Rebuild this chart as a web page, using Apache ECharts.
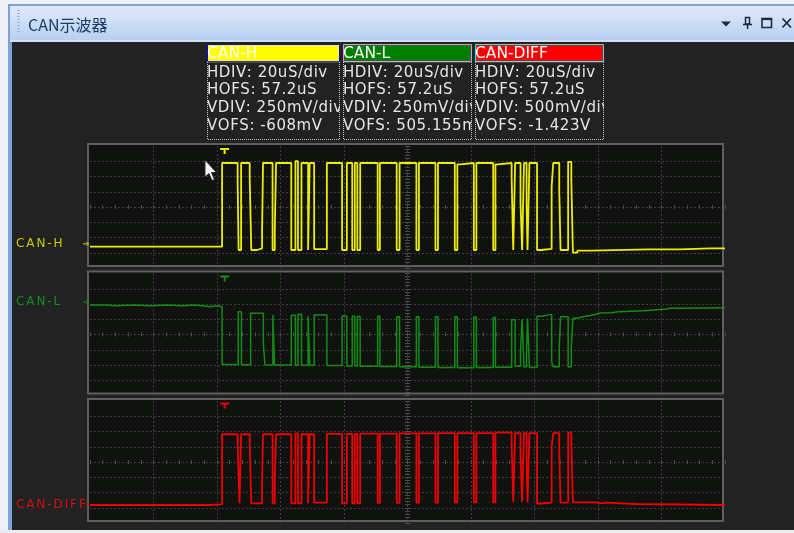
<!DOCTYPE html>
<html>
<head>
<meta charset="utf-8">
<script src="https://cdn.jsdelivr.net/npm/echarts@6/dist/echarts.min.js"></script>
<style>
html,body{margin:0;padding:0;background:#222222;}
#main{width:794px;height:533px;}
</style>
</head>
<body>
<div id="main"></div>
<script>
// ---- channel settings (shown in the info boxes) ----
const channelNames = ['CAN-H', 'CAN-L', 'CAN-DIFF'];
const hdivText = ['20uS/div', '20uS/div', '20uS/div'];
const hofsText = ['57.2uS', '57.2uS', '57.2uS'];
const vdivText = ['250mV/div', '250mV/div', '500mV/div'];
const vofsText = ['-608mV', '505.155mV', '-1.423V'];

// time axis in µs around the screen centre, 20 µs per division
const timeRange = [-100, 100];
const timePerDiv = 20;
// volts per division for each channel, mV
const voltsPerDiv = [250, 250, 500];
// trigger instant, µs
const triggerTime = -57.6;

// captured waveforms: [time µs, level mV relative to channel centre line]
// each point marks where the level changes (drawn as a step trace)
const canH = [
  [-100, -651], [-58.4, 721], [-53.5, 415], [-53.2, -705],
  [-52.4, 721], [-49.7, 470], [-49.2, -705], [-47.4, -677], [-45.8, -377],
  [-45.5, 721], [-43.6, 700], [-43.0, 721], [-42.5, -705], [-41.8, -405],
  [-41.4, 721], [-36.6, -705], [-35.3, 750], [-34.5, -705],
  [-33.4, 721], [-31.3, -705], [-30.8, 721], [-29.4, -690],
  [-25.4, 721], [-20.6, -705], [-19.1, 721], [-17.4, -705],
  [-16.6, 721], [-15.8, -705], [-14.9, 721], [-9.4, -705],
  [-8.7, 721], [-3.4, -705], [-2.5, 721], [2.8, -705],
  [3.6, 721], [8.8, -705], [9.6, 721], [14.9, -705],
  [15.7, 700], [16.5, 721], [20.9, -705], [21.7, 721], [27.0, -705],
  [27.7, 700], [28.5, 721], [32.8, 470], [33.3, -705],
  [33.9, 721], [35.6, 61], [36.1, -705], [36.7, 721], [37.5, 33], [37.8, -705],
  [38.4, 721], [40.8, -705], [42.1, -688], [45.4, 333], [45.9, 721],
  [47.8, 251], [48.2, -705], [50.6, 740], [51.6, 443], [52.1, -749],
  [53.5, -716], [57.9, -694], [75.9, -670], [76.4, -694], [78.3, -670], [78.8, -694],
  [79.9, -672], [80.4, -694], [82.7, -672], [83.2, -694], [84.0, -672], [84.5, -694],
  [85.8, -677], [95.3, -655], [95.9, -677], [100, -677]
];

const canL = [
  [-100, 483], [-95, 470], [-92, 483], [-86, 470], [-81, 483], [-76, 470],
  [-71, 483], [-67, 456], [-62, 470], [-60, 456],
  [-58.4, -490], [-53.3, 374], [-52.3, -495], [-49.4, 347], [-45.4, -144], [-44.9, -500],
  [-42.4, 320], [-41.9, -500], [-36.6, 315], [-35.3, -505], [-34.5, 330], [-33.4, -505],
  [-31.3, 300], [-30.8, -505], [-29.4, 320], [-25.4, -510], [-20.6, 305], [-19.1, -515],
  [-17.4, 300], [-16.6, -515], [-15.8, 295], [-14.9, -520], [-9.4, 300], [-8.7, -525],
  [-3.4, 292], [-2.5, -528], [2.8, 292], [3.6, -535], [8.8, 292], [9.6, -540],
  [14.9, 290], [15.7, -545], [20.9, 285], [21.7, -540], [27.0, 280], [27.7, -535],
  [32.8, 240], [33.9, -520], [35.6, -300], [36.1, 250], [36.7, -530], [37.5, -250],
  [37.8, 260], [38.4, -540], [40.8, 300], [42.1, 330], [45.4, -446], [45.9, -528],
  [47.8, -200], [48.2, 292], [50.6, -528], [51.6, -200], [52.1, 266], [53.4, 292],
  [55.3, 308], [56.9, 320], [58.4, 336], [59.7, 352], [60.6, 357], [64.4, 374],
  [66.3, 390], [74.2, 418], [81.7, 429], [82.4, 445], [82.9, 429], [84.6, 445],
  [85.1, 429], [86.5, 439], [100, 439]
];

const canDiff = [
  [-100, -1410], [-62.8, -1466], [-62.5, -1387],
  [-58.4, 910], [-53.5, 557], [-52.9, -1354],
  [-52.4, 910], [-49.7, 612], [-49.2, -1354], [-45.8, -535],
  [-45.5, 910], [-42.5, -1354], [-41.8, -500],
  [-41.4, 910], [-36.6, -1354], [-35.3, 940], [-34.5, -1354],
  [-33.4, 910], [-31.3, -1354], [-30.8, 910], [-29.4, -1330],
  [-25.4, 920], [-20.6, -1354], [-19.1, 920], [-17.4, -1354],
  [-16.6, 920], [-15.8, -1354], [-14.9, 930], [-9.4, -1340],
  [-8.7, 930], [-3.4, -1340], [-2.5, 940], [2.8, -1330],
  [3.6, 940], [8.8, -1330], [9.6, 950], [14.9, -1320],
  [15.7, 950], [20.9, -1320], [21.7, 950], [27.0, -1320],
  [27.7, 960], [32.8, 612], [33.3, -1302], [33.9, 950], [35.6, 175], [36.1, -1302],
  [36.7, 950], [37.5, 66], [37.8, -1330], [38.4, 950], [40.8, -1360], [42.1, -1330],
  [45.4, 503], [45.9, 950], [47.8, 338], [48.2, -1330], [50.6, 960], [51.6, 667],
  [52.1, -1321], [59.6, -1360], [60.4, -1330], [62.7, -1377], [71.7, -1410], [100, -1410]
];

// ---- styling ----
const traceColors = ['#eded00', '#138d13', '#f00000'];
const traceWidths = [1.8, 1.5, 1.8];
const labelColors = ['#cdcd00', '#14901a', '#d41010'];
const headerFill = ['#ffff00', '#008000', '#ff0000'];
const headerEdge = ['#0000ff', '#ff7fff', '#00ffff'];
const gridColor = '#3f3f3f';
const tickColor = '#4d4d4d';
const frameBg = '#222222';
const plotBg = '#0f120f';

const panelTop = [146, 273.5, 401];
const plotLeft = 90, plotW = 635, plotH = 122;
// level of the small trigger "T" flag in each panel, mV
const triggerFlagLevel = [920, 920, 1850];

const chart = echarts.init(document.getElementById('main'), null, {renderer: 'canvas'});

const grids = panelTop.map(t => ({left: plotLeft, top: t, width: plotW, height: plotH, show: false}));
const xAxes = [], yAxes = [];
const tickCommon = {show: true, length: 2, lineStyle: {color: tickColor, width: 1}};
panelTop.forEach((t, i) => {
  const vd = voltsPerDiv[i];
  const xBase = {
    gridIndex: i, type: 'value', min: timeRange[0], max: timeRange[1], interval: timePerDiv,
    axisLabel: {show: false}, axisTick: tickCommon,
    minorTick: {show: true, splitNumber: 5, length: 2, lineStyle: {color: tickColor, width: 1}}
  };
  const yBase = {
    gridIndex: i, type: 'value', min: -4 * vd, max: 4 * vd, interval: vd,
    axisLabel: {show: false}, axisTick: {show: true, length: 2.5, lineStyle: {color: tickColor, width: 1}},
    minorTick: {show: true, splitNumber: 5, length: 2.5, lineStyle: {color: tickColor, width: 1}}
  };
  // division grid + lower half of the centre-line ticks
  xAxes.push(Object.assign({}, xBase, {
    position: 'bottom',
    axisLine: {show: false, onZero: true, onZeroAxisIndex: 2 * i},
    splitLine: {show: true, showMinLine: false, showMaxLine: false, lineStyle: {color: gridColor, type: [2, 2], width: 1}}
  }));
  // upper half of the centre-line ticks
  xAxes.push(Object.assign({}, xBase, {
    position: 'top',
    axisLine: {show: false, onZero: true, onZeroAxisIndex: 2 * i},
    splitLine: {show: false}
  }));
  yAxes.push(Object.assign({}, yBase, {
    position: 'left',
    axisLine: {show: false, onZero: true, onZeroAxisIndex: 2 * i},
    splitLine: {show: true, showMinLine: false, showMaxLine: false, lineStyle: {color: gridColor, type: [2, 2], width: 1}}
  }));
  yAxes.push(Object.assign({}, yBase, {
    position: 'right',
    axisLine: {show: false, onZero: true, onZeroAxisIndex: 2 * i},
    splitLine: {show: false}
  }));
});

const traces = [canH, canL, canDiff];
const series = traces.map((d, i) => ({
  type: 'line', name: channelNames[i],
  xAxisIndex: 2 * i, yAxisIndex: 2 * i,
  data: d, step: 'end', showSymbol: false, symbol: 'none',
  animation: false, silent: true,
  lineStyle: {color: traceColors[i], width: traceWidths[i]},
  itemStyle: {color: traceColors[i]},
  z: 3,
  markPoint: {
    symbol: 'path://M0,0H9V2H5.5V6H3.5V2H0Z', symbolSize: [9, 6], silent: true, animation: false,
    label: {show: false}, itemStyle: {color: traceColors[i]},
    data: [{coord: [triggerTime, triggerFlagLevel[i]]}]
  }
}));

// text laid out one character at a time with extra tracking
const measureCtx = document.createElement('canvas').getContext('2d');
function trackedText(out, str, x, y, font, fill, tracking, z) {
  measureCtx.font = font;
  let cx = x;
  for (const ch of str) {
    out.push({type: 'text', z: z, style: {text: ch, x: cx, y: y, font: font, fill: fill, verticalAlign: 'middle'}});
    cx += measureCtx.measureText(ch).width + tracking;
  }
}

// ---- window chrome, info boxes, panel frames and labels ----
const g = [];
// outer light margin and window border
g.push({type: 'rect', z: -20, shape: {x: 0, y: 0, width: 794, height: 533}, style: {fill: '#eef2f8'}});
g.push({type: 'rect', z: -19, shape: {x: 8, y: 4, width: 786, height: 526}, style: {fill: '#7fa2d6'}});
g.push({type: 'rect', z: -18, shape: {x: 12, y: 42, width: 782, height: 488}, style: {fill: frameBg}});
g.push({type: 'rect', z: -18, shape: {x: 0, y: 530, width: 794, height: 3}, style: {fill: '#ececec'}});
// title bar
g.push({type: 'rect', z: -17, shape: {x: 10, y: 6, width: 784, height: 35}, style: {
  fill: {type: 'linear', x: 0, y: 0, x2: 0, y2: 1, colorStops: [{offset: 0, color: '#e0ebfa'}, {offset: 1, color: '#b5cff1'}]}
}});
g.push({type: 'rect', z: -17, shape: {x: 10, y: 40, width: 784, height: 2}, style: {fill: '#cfdff5'}});
g.push({type: 'line', z: 5, shape: {x1: 18.5, y1: 10, x2: 18.5, y2: 34}, style: {stroke: '#8aa3c8', lineWidth: 2, lineDash: [1, 2]}});
g.push({type: 'text', z: 5, style: {text: 'CAN示波器', x: 28, y: 24.5, font: '16px "Noto Sans CJK SC"', fill: '#1f3a63', verticalAlign: 'middle'}});
// title bar buttons
const iconColor = '#1b2b44';
g.push({type: 'polygon', z: 5, shape: {points: [[721, 21.5], [731, 21.5], [726, 26.5]]}, style: {fill: iconColor}});
g.push({type: 'rect', z: 5, shape: {x: 745.5, y: 17.5, width: 4, height: 6.5}, style: {fill: 'none', stroke: iconColor, lineWidth: 1.5}});
g.push({type: 'line', z: 5, shape: {x1: 743, y1: 24.5, x2: 752, y2: 24.5}, style: {stroke: iconColor, lineWidth: 1.5}});
g.push({type: 'line', z: 5, shape: {x1: 747.5, y1: 24.5, x2: 747.5, y2: 29}, style: {stroke: iconColor, lineWidth: 1.5}});
g.push({type: 'rect', z: 5, shape: {x: 762, y: 18.5, width: 9.5, height: 9}, style: {fill: 'none', stroke: iconColor, lineWidth: 1.6}});
g.push({type: 'line', z: 5, shape: {x1: 762, y1: 19.3, x2: 771.5, y2: 19.3}, style: {stroke: iconColor, lineWidth: 1.6}});
g.push({type: 'line', z: 5, shape: {x1: 782.5, y1: 18.5, x2: 791, y2: 27.5}, style: {stroke: iconColor, lineWidth: 1.8}});
g.push({type: 'line', z: 5, shape: {x1: 791, y1: 18.5, x2: 782.5, y2: 27.5}, style: {stroke: iconColor, lineWidth: 1.8}});

// info boxes; each box is layered above the previous one so overflowing text is hidden
const boxX = [207.5, 343.5, 475.5];
const boxW = [132, 128, 128];
const infoFont = '15px "DejaVu Sans"';
channelNames.forEach((name, i) => {
  const bx = boxX[i], bw = boxW[i], zb = 10 + i * 6;
  g.push({type: 'rect', z: zb, shape: {x: bx - 0.5, y: 43.5, width: i === 2 ? 60 : bw + 4.5, height: 97}, style: {fill: frameBg}});
  g.push({type: 'rect', z: zb + 1, shape: {x: bx, y: 44.5, width: bw, height: 17}, style: {fill: headerFill[i], stroke: headerEdge[i], lineWidth: 1}});
  g.push({type: 'text', z: zb + 2, style: {text: name, x: bx - 0.5, y: 53.5, font: '15.5px "DejaVu Sans"', fill: '#ffffff', verticalAlign: 'middle'}});
  const lines = ['HDIV: ' + hdivText[i], 'HOFS: ' + hofsText[i], 'VDIV: ' + vdivText[i], 'VOFS: ' + vofsText[i]];
  const ly = [73, 90.5, 108.5, 126];
  lines.forEach((s, k) => trackedText(g, s, bx - 0.5, ly[k], infoFont, '#e6e6e6', 0.55, zb + 2));
  // gap to the right of the box
  g.push({type: 'rect', z: zb + 3, shape: {x: bx + bw + 0.5, y: 62, width: i === 2 ? 40 : 3.5, height: 78}, style: {fill: frameBg}});
  g.push({type: 'rect', z: zb + 4, shape: {x: bx, y: 62, width: bw, height: 77.5}, style: {fill: 'none', stroke: '#c4c4c4', lineWidth: 1, lineDash: [1, 1]}});
});

// plot panels: background and frame
const frameTop = [144, 271.5, 399];
frameTop.forEach(t => {
  g.push({type: 'rect', z: -5, shape: {x: 88, y: t, width: 635, height: 122}, style: {fill: plotBg}});
  g.push({type: 'rect', z: 1, shape: {x: 88, y: t, width: 635, height: 122}, style: {fill: 'none', stroke: '#5e5e5e', lineWidth: 2}});
});

// channel labels with offset arrows
const labelY = [243.5, 301.5, 504.5];
const arrowY = [243.8, 302.2, 504.3];
const arrowX = [83, 83, 86];
channelNames.forEach((name, i) => {
  trackedText(g, name, 16, labelY[i], '12px "DejaVu Sans"', labelColors[i], 1.9, 6);
  g.push({type: 'polyline', z: 6, shape: {points: [[arrowX[i], arrowY[i]], [88.5, arrowY[i]]]}, style: {stroke: labelColors[i], lineWidth: 1}});
  g.push({type: 'polyline', z: 6, shape: {points: [[86.5, arrowY[i] - 2], [88.5, arrowY[i]], [86.5, arrowY[i] + 2]]}, style: {stroke: labelColors[i], lineWidth: 1, fill: 'none'}});
});

// mouse pointer resting over the upper panel
g.push({type: 'polygon', z: 40, shape: {points: [[205, 160], [205, 177], [209, 173.5], [212, 180.5], [214.5, 179.5], [211.5, 172.5], [216.5, 172.5]]},
  style: {fill: '#f4f4f4', stroke: '#2a2a2a', lineWidth: 1}});

chart.setOption({
  backgroundColor: frameBg,
  animation: false,
  grid: grids,
  xAxis: xAxes,
  yAxis: yAxes,
  series: series,
  graphic: {elements: g}
});
</script>
</body>
</html>
